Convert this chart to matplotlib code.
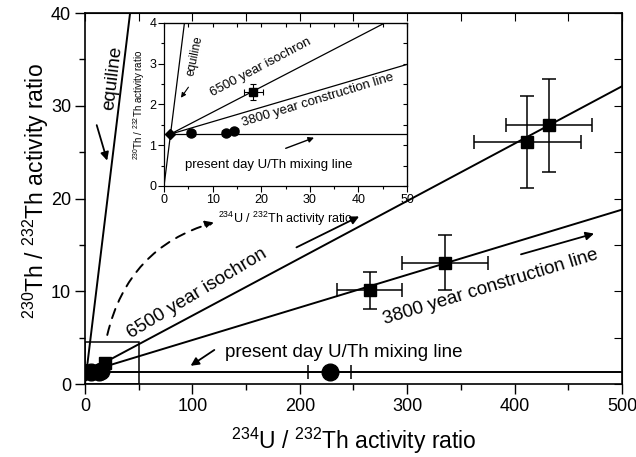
import matplotlib
matplotlib.use("Agg")
import matplotlib.pyplot as plt
from matplotlib.patches import Rectangle

plt.rcParams['font.family'] = ['Liberation Sans', 'DejaVu Sans']
plt.rcParams['mathtext.fontset'] = 'custom'
plt.rcParams['mathtext.rm'] = 'Liberation Sans'
plt.rcParams['mathtext.it'] = 'Liberation Sans:italic'
plt.rcParams['mathtext.bf'] = 'Liberation Sans:bold'

# ---- data ----
# detrital end member (diamond)
detrital_x = [1.25]
detrital_y = [1.27]

# large samples (squares) on main plot
sq_x = [265, 335, 412, 432]
sq_y = [10.1, 13.1, 26.1, 27.9]
sq_xerr = [30, 40, 50, 40]
sq_yerr = [2.0, 3.0, 5.0, 5.0]

# low ratio square
sq2_x = [18.4]
sq2_y = [2.31]
sq2_xerr = [2.0]
sq2_yerr = [0.2]

# circles (present day mixing)
circ_x = [5.5, 12.7, 14.5]
circ_y = [1.30, 1.29, 1.35]
circ_xerr = [0.8, 0.8, 0.8]
circ_big_x = [228]
circ_big_y = [1.27]
circ_big_xerr = [20]

# reference lines
equi_x = [0, 42]
equi_y = [0, 40]
iso_x = [1.25, 500]
iso_y = [1.27, 32.1]
cons_x = [1.25, 500]
cons_y = [1.27, 18.8]
mix_x = [1.25, 500]
mix_y = [1.27, 1.27]

xlabel = r'$^{\mathrm{234}}$U / $^{\mathrm{232}}$Th activity ratio'
ylabel = r'$^{\mathrm{230}}$Th / $^{\mathrm{232}}$Th activity ratio'

fig = plt.figure(figsize=(6.36, 4.57), dpi=100)
ax = fig.add_axes([0.1336, 0.1597, 0.8443, 0.8118])

lw = 1.4
for xs, ys in [(equi_x, equi_y), (iso_x, iso_y), (cons_x, cons_y), (mix_x, mix_y)]:
    ax.plot(xs, ys, color='black', lw=lw, zorder=2)

ax.add_patch(Rectangle((0, 0), 50, 4.5, fill=False, edgecolor='black', lw=1.1, zorder=2))

ax.errorbar(sq_x, sq_y, xerr=sq_xerr, yerr=sq_yerr, fmt='s', ms=8, color='black',
            ecolor='black', elinewidth=1.1, capsize=5, capthick=1.1, zorder=4)
ax.errorbar(sq2_x, sq2_y, xerr=sq2_xerr, yerr=sq2_yerr, fmt='s', ms=8, color='black',
            ecolor='black', elinewidth=1.1, capsize=3, zorder=4)
ax.errorbar(circ_x, circ_y, xerr=circ_xerr, fmt='o', ms=12, color='black',
            ecolor='black', elinewidth=1.1, capsize=3, zorder=4)
ax.errorbar(circ_big_x, circ_big_y, xerr=circ_big_xerr, fmt='o', ms=12, color='black',
            ecolor='black', elinewidth=1.1, capsize=5, capthick=1.1, zorder=4)
ax.plot(detrital_x, detrital_y, 'D', ms=8, color='black', zorder=5)

ax.set_xlim(0, 500)
ax.set_ylim(0, 40)
ax.set_xticks([0, 100, 200, 300, 400, 500])
ax.set_xticks([50, 150, 250, 350, 450], minor=True)
ax.set_yticks([0, 10, 20, 30, 40])
ax.set_yticks([5, 15, 25, 35], minor=True)
ax.tick_params(which='major', direction='out', length=7, width=1, labelsize=13, pad=3)
ax.tick_params(which='minor', direction='out', length=4, width=1)
for s in ax.spines.values():
    s.set_linewidth(1.2)

secx = ax.secondary_xaxis('top')
secx.set_xticks([0, 50, 100, 150, 200, 250, 300, 350, 400, 450, 500])
secx.tick_params(direction='in', length=6, labeltop=False)
secy = ax.secondary_yaxis('right')
secy.set_yticks([0, 5, 10, 15, 20, 25, 30, 35, 40])
secy.tick_params(direction='in', length=6, labelright=False)

ax.set_xlabel(xlabel, fontsize=16.5, labelpad=8)
ax.set_ylabel(ylabel, fontsize=16.5)
ax.yaxis.set_label_coords(-0.063, 0.52)

# annotations main
fs = 13.5
ax.text(26, 33, 'equiline', rotation=83, fontsize=fs, ha='center', va='center')
ax.annotate('', xy=(21.4, 23.8), xytext=(10.2, 28.2),
            arrowprops=dict(arrowstyle='-|>', color='black', lw=1.3, mutation_scale=12))
ax.text(104, 9.7, '6500 year isochron', rotation=31, fontsize=fs, ha='center', va='center')
ax.annotate('', xy=(257.6, 18.2), xytext=(194.6, 14.6),
            arrowprops=dict(arrowstyle='-|>', color='black', lw=1.3, mutation_scale=12))
ax.text(378, 10.5, '3800 year construction line', rotation=17, fontsize=fs,
        ha='center', va='center')
ax.annotate('', xy=(476.5, 16.3), xytext=(403.5, 13.9),
            arrowprops=dict(arrowstyle='-|>', color='black', lw=1.3, mutation_scale=12))
ax.text(241, 3.45, 'present day U/Th mixing line', fontsize=fs, ha='center', va='center')
ax.annotate('', xy=(96.2, 1.8), xytext=(122.6, 3.84),
            arrowprops=dict(arrowstyle='-|>', color='black', lw=1.3, mutation_scale=12))
ax.annotate('', xy=(122.5, 17.5), xytext=(20.2, 5.0),
            arrowprops=dict(arrowstyle='-|>', color='black', lw=1.4, linestyle=(0, (5, 4)),
                            mutation_scale=12, connectionstyle='arc3,rad=-0.3'))

# ---- inset ----
ins = fig.add_axes([0.2579, 0.5930, 0.3821, 0.3567])
ins.set_facecolor('white')
ilw = 0.9
for xs, ys in [(equi_x, equi_y), (iso_x, iso_y), (cons_x, cons_y), (mix_x, mix_y)]:
    ins.plot(xs, ys, color='black', lw=ilw, zorder=2)
ins.errorbar(sq2_x, sq2_y, xerr=sq2_xerr, yerr=sq2_yerr, fmt='s', ms=6, color='black',
             ecolor='black', elinewidth=0.8, capsize=2.5, capthick=0.8, zorder=4)
ins.errorbar(circ_x, circ_y, xerr=circ_xerr, fmt='o', ms=6.5, color='black',
             ecolor='black', elinewidth=0.8, capsize=2, zorder=4)
ins.plot(detrital_x, detrital_y, 'D', ms=5, color='black', zorder=5)
ins.set_xlim(0, 50)
ins.set_ylim(0, 4)
ins.set_xticks([0, 10, 20, 30, 40, 50])
ins.set_xticks([5, 15, 25, 35, 45], minor=True)
ins.set_yticks([0, 1, 2, 3, 4])
ins.set_yticks([0.5, 1.5, 2.5, 3.5], minor=True)
ins.tick_params(which='major', direction='out', length=4, width=0.8, labelsize=9, pad=1.5)
ins.tick_params(which='minor', direction='out', length=2, width=0.8)
for s in ins.spines.values():
    s.set_linewidth(0.9)
isx = ins.secondary_xaxis('top')
isx.set_xticks([0, 5, 10, 15, 20, 25, 30, 35, 40, 45, 50])
isx.tick_params(direction='in', length=3, width=0.8, labeltop=False)
isy = ins.secondary_yaxis('right')
isy.set_yticks([0, 0.5, 1, 1.5, 2, 2.5, 3, 3.5, 4])
isy.tick_params(direction='in', length=3, width=0.8, labelright=False)
ins.set_xlabel(xlabel, fontsize=9, labelpad=3)
ins.set_ylabel(ylabel, fontsize=7, labelpad=2)

ifs = 9.5
ins.text(6.4, 3.19, 'equiline', rotation=78, fontsize=8.5, ha='center', va='center')
ins.annotate('', xy=(3.15, 2.11), xytext=(5.35, 2.48),
             arrowprops=dict(arrowstyle='-|>', color='black', lw=0.8, mutation_scale=7))
ins.text(19.96, 2.91, '6500 year isochron', rotation=28, fontsize=ifs, ha='center', va='center')
ins.text(31.75, 2.11, '3800 year construction line', rotation=17, fontsize=ifs,
         ha='center', va='center')
ins.text(21.6, 0.52, 'present day U/Th mixing line', fontsize=ifs, ha='center', va='center')
ins.annotate('', xy=(31.4, 1.21), xytext=(24.5, 0.90),
             arrowprops=dict(arrowstyle='-|>', color='black', lw=1.0, mutation_scale=8))

fig.savefig('out.png', dpi=100)
